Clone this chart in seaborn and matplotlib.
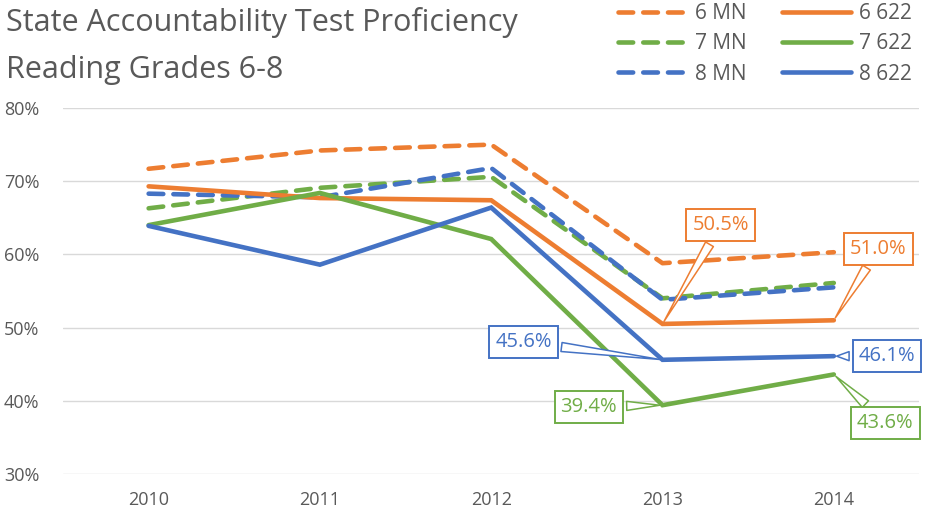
import pandas as pd
import matplotlib.pyplot as plt
import seaborn as sns

# Datos
years = ["2010", "2011", "2012", "2013", "2014"]
mn_6 = [71.7, 74.2, 75.0, 58.8, 60.3]
mn_7 = [66.3, 69.1, 70.6, 54.0, 56.1]
mn_8 = [68.3, 67.8, 71.8, 53.8, 55.5]
d622_6 = [69.3, 67.7, 67.4, 50.5, 51.0]
d622_7 = [64.0, 68.4, 62.1, 39.4, 43.6]
d622_8 = [63.9, 58.6, 66.4, 45.6, 46.1]

series = {
    "6 MN": mn_6, "7 MN": mn_7, "8 MN": mn_8,
    "6 622": d622_6, "7 622": d622_7, "8 622": d622_8,
}

ORANGE, GREEN, BLUE = "#ED7D31", "#70AD47", "#4472C4"
GRAY = "#595959"
palette = {"6 MN": ORANGE, "7 MN": GREEN, "8 MN": BLUE,
           "6 622": ORANGE, "7 622": GREEN, "8 622": BLUE}
dashes = {"6 MN": (3.2, 2.2), "7 MN": (3.2, 2.2), "8 MN": (3.2, 2.2),
          "6 622": "", "7 622": "", "8 622": ""}

rows = []
for name, vals in series.items():
    for i, v in enumerate(vals):
        rows.append({"x": i, "value": v, "series": name})
df = pd.DataFrame(rows)

sns.set_theme(style="white")
plt.rcParams["font.family"] = ["Open Sans", "DejaVu Sans"]

fig = plt.figure(figsize=(9.33, 5.27), dpi=100)
ax = fig.add_axes([0.0675, 0.1006, 0.918, 0.6944])

sns.lineplot(data=df, x="x", y="value", hue="series", style="series",
             palette=palette, dashes=dashes, linewidth=3.3, ax=ax,
             hue_order=list(series.keys()), style_order=list(series.keys()))
for ln in ax.get_lines():
    ln.set_dash_capstyle("round")
    ln.set_solid_joinstyle("miter")

ax.set_xlim(-0.5, 4.5)
ax.set_ylim(30, 80)
ax.set_yticks([30, 40, 50, 60, 70, 80])
ax.set_yticklabels([f"{t}%" for t in [30, 40, 50, 60, 70, 80]])
ax.set_xticks(range(len(years)))
ax.set_xticklabels(years)
ax.tick_params(axis="both", colors=GRAY, labelsize=13, length=0)
ax.tick_params(axis="y", pad=17)
ax.tick_params(axis="x", pad=12)
ax.grid(axis="y", color="#D9D9D9", linewidth=1)
ax.set_axisbelow(True)
for s in ax.spines.values():
    s.set_visible(False)
ax.set_xlabel("")
ax.set_ylabel("")

# Leyenda en dos columnas
handles, labels = ax.get_legend_handles_labels()
ax.get_legend().remove()
leg = fig.legend(handles, labels, ncol=2, loc="upper right",
                 bbox_to_anchor=(0.998, 1.03), frameon=False,
                 fontsize=15, labelcolor=GRAY, handlelength=3.3,
                 handletextpad=0.4, columnspacing=1.7, labelspacing=0.45)
for ln in leg.get_lines():
    ln.set_linewidth(3.3)
    ln.set_dash_capstyle("round")

fig.text(0.006, 0.958, "State Accountability Test Proficiency", fontsize=22,
         color=GRAY, va="center", ha="left")
fig.text(0.006, 0.868, "Reading Grades 6-8", fontsize=22,
         color=GRAY, va="center", ha="left")

# Etiquetas con llamada
callouts = [
    (3, d622_6[3], ORANGE, (3.34, 64.0)),
    (4, d622_6[4], ORANGE, (4.26, 60.8)),
    (3, d622_8[3], BLUE, (2.19, 48.0)),
    (4, d622_8[4], BLUE, (4.31, 46.1)),
    (3, d622_7[3], GREEN, (2.57, 39.2)),
    (4, d622_7[4], GREEN, (4.30, 37.0)),
]
for xi, val, col, (tx, ty) in callouts:
    ax.annotate(f"{val:.1f}%", xy=(xi, val), xytext=(tx, ty),
                textcoords="data", ha="center", va="center",
                fontsize=14.5, color=col,
                bbox=dict(boxstyle="square,pad=0.3", fc="white", ec=col, lw=1.4),
                arrowprops=dict(arrowstyle="wedge,tail_width=0.45,shrink_factor=0.5",
                                fc="white", ec=col, lw=1.1))

fig.savefig("out.png", dpi=100)
